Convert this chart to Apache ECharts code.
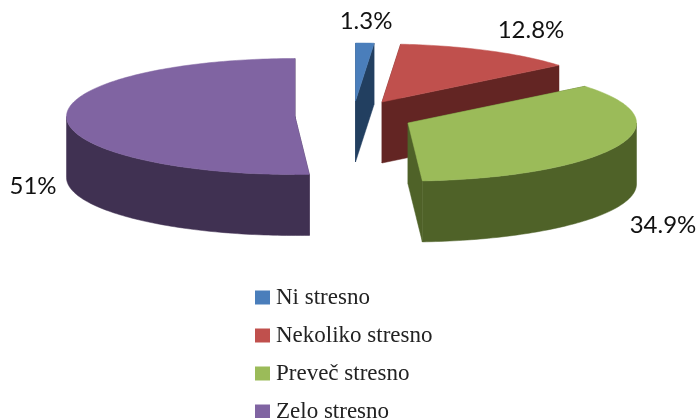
<!DOCTYPE html>
<html>
<head>
<meta charset="utf-8">
<style>
  html, body { margin: 0; padding: 0; background: #fff; overflow: hidden; }
  #main { width: 697px; height: 418px; }
</style>
</head>
<body>
<div id="main"></div>
<script src="https://cdn.jsdelivr.net/npm/echarts@6/dist/echarts.min.js"></script>
<script>
// data
const categories = ['Ni stresno', 'Nekoliko stresno', 'Preveč stresno', 'Zelo stresno'];
const percents = [1.3, 12.8, 34.9, 51];

// colours per slice: top face, side faces
const topColors = ['#4a7ebb', '#c0504d', '#9bbb59', '#8064a2'];
const sideColors = ['#223f60', '#632523', '#4f6228', '#403152'];

// exploded pie layout
const centers = [[355.5, 101], [382, 102], [408, 123], [295, 116.5]];
const labelPos = [[366, 21], [531, 30], [663, 225], [33, 186]];
const RX = 228.5, RY = 58, DEPTH = 61;

const total = percents.reduce((a, b) => a + b, 0);

// start and end angle of each slice, clockwise from 12 o'clock
function sliceAngles(i) {
  let before = 0;
  for (let k = 0; k < i; k++) before += percents[k];
  return [before / total * 2 * Math.PI, (before + percents[i]) / total * 2 * Math.PI];
}

function rimPoint(c, a, dy) {
  return [c[0] + RX * Math.sin(a), c[1] - RY * Math.cos(a) + (dy || 0)];
}

function arcPoints(c, a0, a1, dy) {
  const pts = [];
  const n = Math.max(2, Math.ceil((a1 - a0) / 0.02));
  for (let k = 0; k <= n; k++) pts.push(rimPoint(c, a0 + (a1 - a0) * k / n, dy));
  return pts;
}

function poly(points, fill) {
  return { type: 'polygon', shape: { points: points }, style: { fill: fill, stroke: fill, lineWidth: 0.5 } };
}

function renderSlice(i) {
  const c = centers[i];
  const [a0, a1] = sliceAngles(i);
  const side = sideColors[i];
  const children = [];

  // the two cut faces
  [a0, a1].forEach(a => {
    children.push(poly([c, rimPoint(c, a), rimPoint(c, a, DEPTH), [c[0], c[1] + DEPTH]], side));
  });

  // outer wall, only the part that faces the viewer
  const w0 = Math.max(a0, Math.PI / 2), w1 = Math.min(a1, Math.PI * 1.5);
  if (w1 > w0) {
    children.push(poly(arcPoints(c, w0, w1, 0).concat(arcPoints(c, w0, w1, DEPTH).reverse()), side));
  }

  // top face
  children.push(poly([c].concat(arcPoints(c, a0, a1, 0)), topColors[i]));

  // percent label
  children.push({
    type: 'text',
    z2: 10,
    style: {
      x: labelPos[i][0], y: labelPos[i][1],
      text: percents[i] + '%',
      fill: '#111',
      font: '24px Lato',
      align: 'center', verticalAlign: 'middle'
    }
  });
  return { type: 'group', children: children };
}

const chart = echarts.init(document.getElementById('main'));

chart.setOption({
  animation: false,
  legend: {
    orient: 'vertical',
    left: 255,
    top: 286,
    height: 180,
    padding: 0,
    itemWidth: 15,
    itemHeight: 14,
    itemGap: 15,
    icon: 'rect',
    selectedMode: false,
    data: categories,
    textStyle: { fontFamily: 'Liberation Serif', fontSize: 23, color: '#222', padding: [0, 0, 0, 1] }
  },
  series: categories.map((name, i) => ({
    type: 'custom',
    name: name,
    coordinateSystem: 'none',
    silent: true,
    itemStyle: { color: topColors[i] },
    data: [percents[i]],
    renderItem: () => renderSlice(i)
  }))
});
</script>
</body>
</html>
